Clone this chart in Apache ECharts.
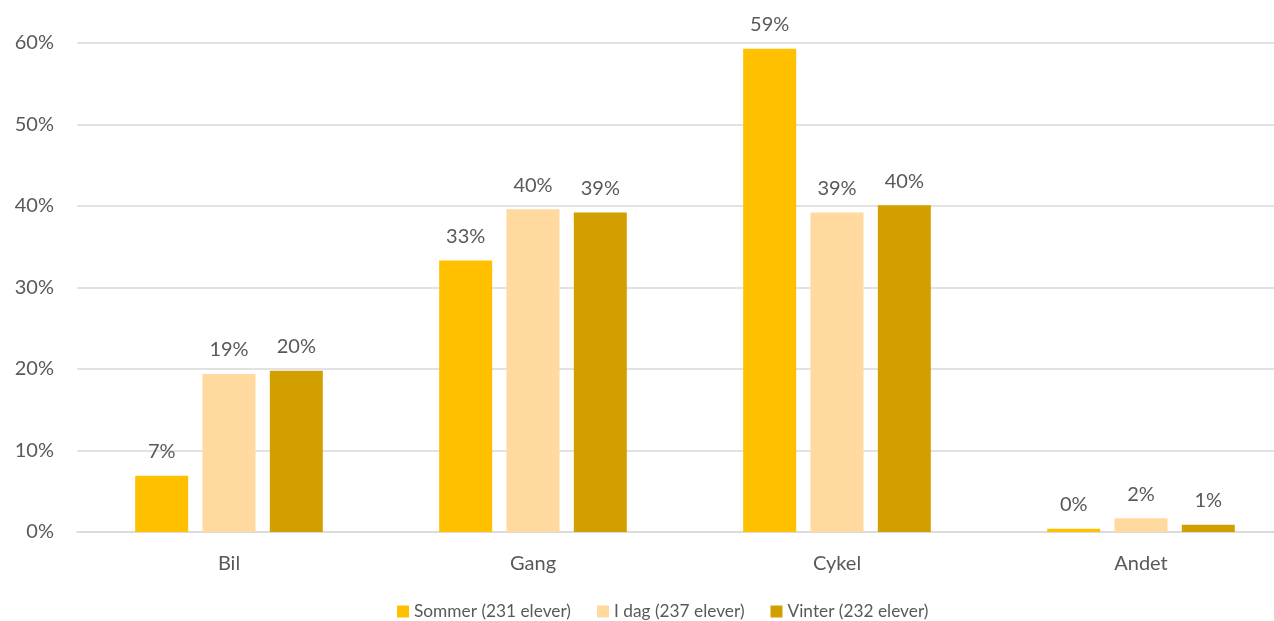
<!DOCTYPE html>
<html>
<head>
<meta charset="utf-8">
<script src="https://cdn.jsdelivr.net/npm/echarts@6/dist/echarts.min.js"></script>
<style>
html,body{margin:0;padding:0;background:#fff;}
#c{width:1274px;height:621px;}
</style>
</head>
<body>
<div id="c"></div>
<script>
const categories = ['Bil', 'Gang', 'Cykel', 'Andet'];
const seriesNames = ['Sommer (231 elever)', 'I dag (237 elever)', 'Vinter (232 elever)'];
const sommer = [6.9, 33.3, 59.3, 0.4];
const idag = [19.4, 39.6, 39.2, 1.7];
const vinter = [19.8, 39.2, 40.1, 0.9];
const yTicks = [0, 10, 20, 30, 40, 50, 60];
const colors = ['#FFC000', '#FFD99E', '#D29F00'];

const FONT = 'Lato';
const chart = echarts.init(document.getElementById('c'));
const mk = (name, data, color) => ({
  name, type: 'bar', data,
  barWidth: 53, barGap: '27%',
  itemStyle: { color },
  label: {
    show: true, position: 'top', distance: 14,
    formatter: p => Math.round(p.value) + '%',
    color: '#595959', fontSize: 20, fontFamily: FONT
  }
});
chart.setOption({
  animation: false,
  textStyle: { fontFamily: FONT },
  grid: { left: 77, top: 43, width: 1216, height: 489, containLabel: false, outerBoundsMode: 'none' },
  legend: {
    top: 601, left: 392, padding: [2, 5, 2, 5], itemWidth: 12, itemHeight: 12, itemGap: 26,
    icon: 'rect',
    textStyle: { color: '#595959', fontSize: 17.3, fontFamily: FONT },
    data: seriesNames
  },
  xAxis: {
    type: 'category', data: categories,
    axisLine: { lineStyle: { color: '#D9D9D9', width: 1.5 } },
    axisTick: { show: false },
    axisLabel: { color: '#595959', fontSize: 20, margin: 22, fontFamily: FONT }
  },
  yAxis: {
    type: 'value', min: yTicks[0], max: yTicks[yTicks.length - 1], interval: 10,
    axisLine: { show: false }, axisTick: { show: false },
    splitLine: { lineStyle: { color: '#D9D9D9', width: 1.5 } },
    axisLabel: { color: '#595959', fontSize: 20, margin: 23, fontFamily: FONT, formatter: v => v + '%' }
  },
  series: [
    mk(seriesNames[0], sommer, colors[0]),
    mk(seriesNames[1], idag, colors[1]),
    mk(seriesNames[2], vinter, colors[2])
  ]
});
</script>
</body>
</html>
